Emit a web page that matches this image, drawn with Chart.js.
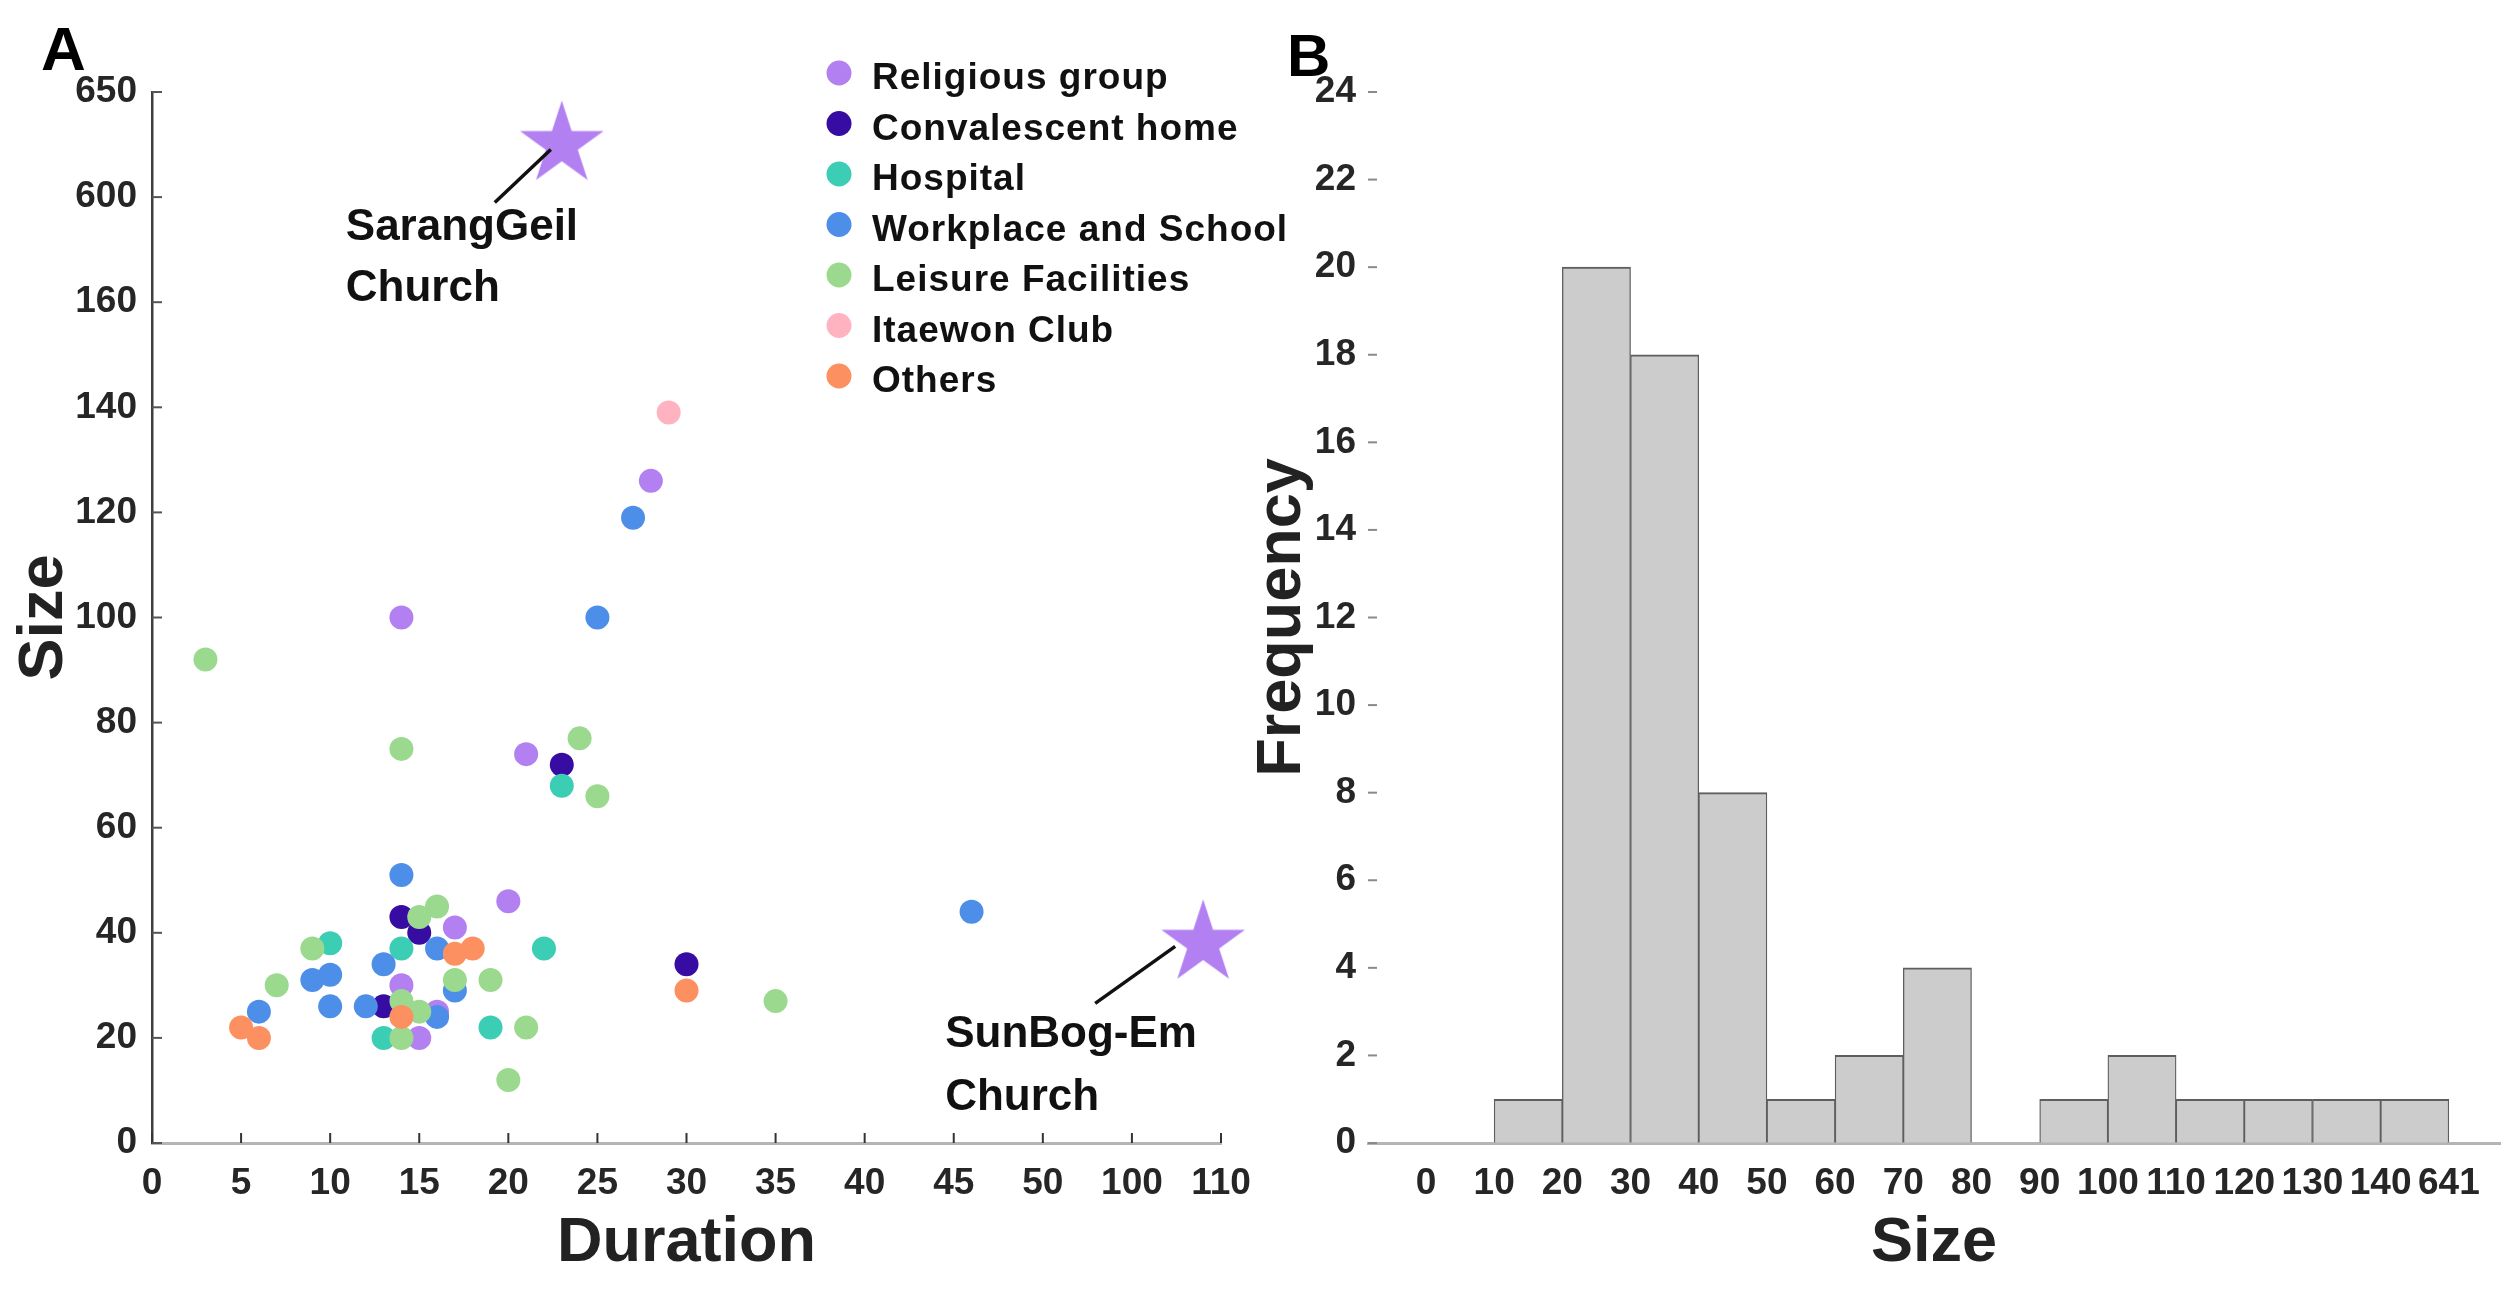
<!DOCTYPE html>
<html><head><meta charset="utf-8">
<script src="https://cdn.jsdelivr.net/npm/chart.js@4.4.1/dist/chart.umd.min.js"></script>
<style>
html,body{margin:0;padding:0;background:#fff;width:2509px;height:1289px;overflow:hidden;}
canvas{position:absolute;top:0;}
#cA{left:0;} #cB{left:1240px;}
</style></head><body>
<canvas id="cA" width="1300" height="1289"></canvas>
<canvas id="cB" width="1269" height="1289"></canvas>
<script>
// ---------------- DATA ----------------
const categories = ['Religious group','Convalescent home','Hospital','Workplace and School','Leisure Facilities','Itaewon Club','Others'];

const religiousDuration    = [28, 14, 21, 20, 17, 14, 16, 15];
const religiousSize        = [126, 100, 74, 46, 41, 30, 25, 20];
const convalescentDuration = [23, 14, 15, 13, 30];
const convalescentSize     = [72, 43, 40, 26, 34];
const hospitalDuration     = [23, 10, 22, 14, 13, 19];
const hospitalSize         = [68, 38, 37, 37, 20, 22];
const workplaceDuration    = [27, 25, 46, 14, 16, 13, 9, 10, 10, 12, 6, 16, 17];
const workplaceSize        = [119, 100, 44, 51, 37, 34, 31, 32, 26, 26, 25, 24, 29];
const leisureDuration      = [3, 14, 24, 25, 16, 15, 9, 7, 17, 19, 14, 15, 14, 21, 20, 35];
const leisureSize          = [92, 75, 77, 66, 45, 43, 37, 30, 31, 31, 27, 25, 20, 22, 12, 27];
const itaewonDuration      = [29];
const itaewonSize          = [139];
const othersDuration       = [5, 6, 14, 17, 18, 30];
const othersSize           = [22, 20, 24, 36, 37, 29];

const starLabels   = [['SarangGeil', 'Church'], ['SunBog-Em', 'Church']];
const starDuration = [23, 108];
const starSize     = [625, 38];

const durationTicks = [0, 5, 10, 15, 20, 25, 30, 35, 40, 45, 50, 100, 110];
const sizeTicks     = [0, 20, 40, 60, 80, 100, 120, 140, 160, 600, 650];

const binEdgeLabels = ['0','10','20','30','40','50','60','70','80','90','100','110','120','130','140','641'];
const binCounts     = [0, 1, 20, 18, 8, 1, 2, 4, 0, 1, 2, 1, 1, 1, 1];

// ---------------- STYLE ----------------
const categoryColors = ['#b380f2', '#370ca3', '#3ccdb5', '#4d8ee8', '#9bd98f', '#ffb3c1', '#fc9060'];
const FONT = "'Liberation Sans', Arial, Helvetica, sans-serif";
Chart.defaults.font.family = FONT;
Chart.defaults.font.weight = 'bold';

// ---------------- BROKEN-AXIS SCALE ----------------
class BrokenScale extends Chart.LinearScale {
  static id = 'broken';
  static defaults = {};
  determineDataLimits() {
    const b = this.options.breaks;
    this.min = b[0];
    this.max = b[b.length - 1];
  }
  buildTicks() {
    return this.options.breaks.map(v => ({ value: v }));
  }
  _toIndex(v) {
    const b = this.options.breaks;
    if (v <= b[0]) return (v - b[0]) / (b[1] - b[0]);
    for (let i = 0; i < b.length - 1; i++) {
      if (v <= b[i + 1]) return i + (v - b[i]) / (b[i + 1] - b[i]);
    }
    const n = b.length - 1;
    return n + (v - b[n]) / (b[n] - b[n - 1]);
  }
  getPixelForValue(v) {
    if (v === null || v === undefined || isNaN(v)) return NaN;
    const n = this.options.breaks.length - 1;
    return this.getPixelForDecimal(this._toIndex(v) / n);
  }
  getValueForPixel(p) {
    const b = this.options.breaks;
    const idx = this.getDecimalForPixel(p) * (b.length - 1);
    const i = Math.max(0, Math.min(b.length - 2, Math.floor(idx)));
    return b[i] + (idx - i) * (b[i + 1] - b[i]);
  }
}
Chart.register(BrokenScale);

// ---------------- PLUGINS ----------------
const innerTicks = {
  id: 'innerTicks',
  afterDraw(chart, args, opts) {
    const ctx = chart.ctx;
    (opts.list || []).forEach(o => {
      const s = chart.scales[o.scale];
      if (!s) return;
      ctx.save();
      ctx.strokeStyle = o.color;
      ctx.lineWidth = o.width;
      s.ticks.forEach((t, i) => {
        const p = s.getPixelForTick(i);
        ctx.beginPath();
        if (s.isHorizontal()) { ctx.moveTo(p, s.top); ctx.lineTo(p, s.top - o.length); }
        else { ctx.moveTo(s.right, p); ctx.lineTo(s.right + o.length, p); }
        ctx.stroke();
      });
      ctx.restore();
    });
  }
};

const dotLegend = {
  id: 'dotLegend',
  afterDraw(chart, args, o) {
    if (!o.show) return;
    const ctx = chart.ctx;
    ctx.save();
    ctx.font = o.font;
    if ('letterSpacing' in ctx) ctx.letterSpacing = o.letterSpacing;
    ctx.textBaseline = 'alphabetic';
    ctx.textAlign = 'left';
    let row = 0;
    chart.data.datasets.forEach(ds => {
      if (ds.legendHidden) return;
      const cy = o.top + row * o.rowGap;
      ctx.fillStyle = ds.backgroundColor;
      ctx.beginPath(); ctx.arc(o.dotX, cy, o.dotR, 0, Math.PI * 2); ctx.fill();
      ctx.fillStyle = o.color;
      ctx.fillText(ds.label, o.textX, cy + o.baselineShift);
      row++;
    });
    ctx.restore();
  }
};

const starNotes = {
  id: 'starNotes',
  afterDatasetsDraw(chart, args, o) {
    if (!o.show) return;
    const meta = chart.getDatasetMeta(o.datasetIndex);
    const ctx = chart.ctx;
    ctx.save();
    ctx.font = o.font;
    ctx.fillStyle = o.color;
    ctx.strokeStyle = o.color;
    ctx.lineWidth = o.lineWidth;
    ctx.textAlign = 'left';
    ctx.textBaseline = 'alphabetic';
    o.items.forEach((it, i) => {
      const el = meta.data[i];
      if (!el) return;
      const x = el.x, y = el.y;
      ctx.beginPath();
      ctx.moveTo(x + it.lineFrom[0], y + it.lineFrom[1]);
      ctx.lineTo(x + it.lineTo[0], y + it.lineTo[1]);
      ctx.stroke();
      starLabels[i].forEach((line, j) => ctx.fillText(line, x + it.textDx, y + it.textDy[j]));
    });
    ctx.restore();
  }
};

const panelLetter = {
  id: 'panelLetter',
  afterDraw(chart, args, o) {
    const ctx = chart.ctx;
    ctx.save();
    ctx.font = o.font; ctx.fillStyle = o.color;
    ctx.textAlign = 'left'; ctx.textBaseline = 'alphabetic';
    ctx.fillText(o.text, o.x, o.y);
    ctx.restore();
  }
};

// star marker image
function makeStar(R, color) {
  const c = document.createElement('canvas');
  const s = Math.ceil(2 * R + 4);
  c.width = s; c.height = s;
  const g = c.getContext('2d');
  const cx = s / 2, cy = s / 2, r = R * 0.382;
  g.beginPath();
  for (let k = 0; k < 10; k++) {
    const a = -Math.PI / 2 + k * Math.PI / 5;
    const rr = k % 2 === 0 ? R : r;
    const px = cx + rr * Math.cos(a), py = cy + rr * Math.sin(a);
    if (k === 0) g.moveTo(px, py); else g.lineTo(px, py);
  }
  g.closePath();
  g.fillStyle = color;
  g.fill();
  return c;
}

// ---------------- PANEL A ----------------
const seriesDur  = [religiousDuration, convalescentDuration, hospitalDuration, workplaceDuration, leisureDuration, itaewonDuration, othersDuration];
const seriesSize = [religiousSize, convalescentSize, hospitalSize, workplaceSize, leisureSize, itaewonSize, othersSize];

const scatterSets = categories.map((name, k) => ({
  label: name,
  data: seriesDur[k].map((d, i) => ({ x: d, y: seriesSize[k][i] })),
  backgroundColor: categoryColors[k],
  borderColor: categoryColors[k],
  pointRadius: 12,
  pointHoverRadius: 12,
  pointBorderWidth: 0,
  order: categories.length - k + 1
}));
scatterSets.push({
  label: 'Outbreaks',
  legendHidden: true,
  data: starDuration.map((d, i) => ({ x: d, y: starSize[i] })),
  backgroundColor: categoryColors[0],
  pointStyle: makeStar(44, categoryColors[0]),
  pointRadius: 40,
  order: 0
});

const tickFont = { size: 37, weight: 'bold' };
const titleFont = { size: 63, weight: 'bold' };

new Chart(document.getElementById('cA'), {
  type: 'scatter',
  data: { datasets: scatterSets },
  options: {
    responsive: false, animation: false, devicePixelRatio: 1, events: [],
    layout: { padding: { top: 92, right: 79, left: 0, bottom: 0 } },
    scales: {
      x: {
        type: 'broken', breaks: durationTicks, position: 'bottom',
        afterFit: s => { s.height = 146; },
        grid: { display: true, drawOnChartArea: false, drawTicks: false },
        border: { display: true, color: '#b5b5b5', width: 3 },
        ticks: { font: tickFont, color: '#262626', padding: 19, autoSkip: false, maxRotation: 0, minRotation: 0 },
        title: { display: true, text: 'Duration', font: titleFont, color: '#222', padding: { top: 0, bottom: 8 } }
      },
      y: {
        type: 'broken', breaks: sizeTicks, position: 'left',
        afterFit: s => { s.width = 152; },
        grid: { display: true, drawOnChartArea: false, drawTicks: false },
        border: { display: true, color: '#3f3f3f', width: 2.5 },
        ticks: { font: tickFont, color: '#262626', padding: 15, autoSkip: false },
        title: { display: true, text: 'Size', font: titleFont, color: '#222', padding: { top: 7, bottom: 0 } }
      }
    },
    plugins: {
      legend: { display: false },
      tooltip: { enabled: false },
      innerTicks: { list: [
        { scale: 'x', length: 10, color: '#333', width: 2 },
        { scale: 'y', length: 10, color: '#555', width: 2 }
      ] },
      dotLegend: { show: true, font: 'bold 37px ' + FONT, letterSpacing: '1px', color: '#111',
        dotX: 839, dotR: 12.5, textX: 872, top: 73, rowGap: 50.5, baselineShift: 16 },
      starNotes: { show: true, datasetIndex: 7, font: 'bold 44px ' + FONT, color: '#111', lineWidth: 3.5,
        items: [
          { textDx: -216, textDy: [95, 156], lineFrom: [-67, 58], lineTo: [-11, 5] },
          { textDx: -258, textDy: [104, 167], lineFrom: [-108, 60], lineTo: [-28, 3] }
        ] },
      panelLetter: { text: 'A', x: 41, y: 70, font: 'bold 62px ' + FONT, color: '#000' }
    }
  },
  plugins: [innerTicks, dotLegend, starNotes, panelLetter]
});

// ---------------- PANEL B ----------------
new Chart(document.getElementById('cB'), {
  type: 'bar',
  data: {
    datasets: [{
      label: 'Frequency',
      data: binCounts.map((c, i) => ({ x: i + 0.5, y: c })),
      backgroundColor: '#cccccc',
      borderColor: '#5e5e5e',
      borderWidth: { top: 2, left: 1.3, right: 1.3, bottom: 0 },
      borderSkipped: 'start',
      barPercentage: 1,
      categoryPercentage: 1
    }]
  },
  options: {
    responsive: false, animation: false, devicePixelRatio: 1, events: [],
    layout: { padding: { top: 92, right: 9, left: 0, bottom: 0 } },
    scales: {
      x: {
        type: 'linear', min: -0.85, max: 15.75, offset: false, position: 'bottom',
        afterBuildTicks: s => { s.ticks = binEdgeLabels.map((_, i) => ({ value: i })); },
        afterFit: s => { s.height = 146; },
        grid: { display: true, offset: false, drawOnChartArea: false, drawTicks: false },
        border: { display: true, color: '#b5b5b5', width: 3 },
        ticks: { font: tickFont, color: '#262626', padding: 19, autoSkip: false, maxRotation: 0, minRotation: 0,
          callback: v => binEdgeLabels[v] },
        title: { display: true, text: 'Size', font: titleFont, color: '#222', padding: { top: 0, bottom: 8 } }
      },
      y: {
        type: 'linear', min: 0, max: 24, position: 'left',
        afterFit: s => { s.width = 128; },
        grid: { display: true, drawOnChartArea: false, drawTicks: false },
        border: { display: false },
        ticks: { font: tickFont, color: '#262626', padding: 12, stepSize: 2, autoSkip: false },
        title: { display: true, text: 'Frequency', font: titleFont, color: '#222', padding: { top: 5, bottom: 0 } }
      }
    },
    plugins: {
      legend: { display: false },
      tooltip: { enabled: false },
      innerTicks: { list: [ { scale: 'y', length: 9, color: '#8a8a8a', width: 2 } ] },
      panelLetter: { text: 'B', x: 47, y: 76, font: 'bold 60px ' + FONT, color: '#000' }
    }
  },
  plugins: [innerTicks, panelLetter]
});
</script>
</body></html>
